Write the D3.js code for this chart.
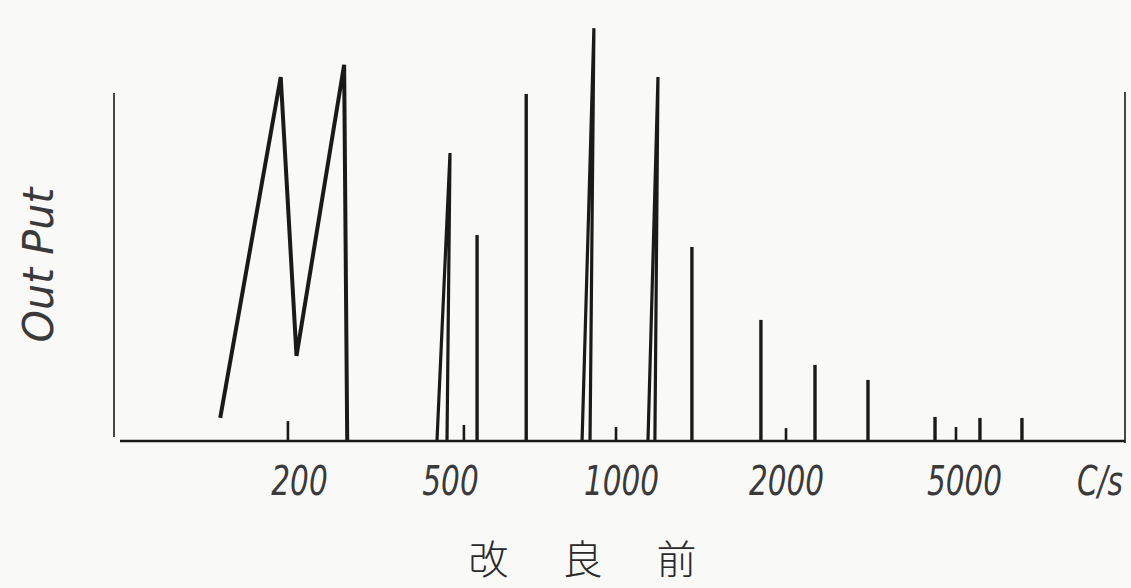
<!DOCTYPE html>
<html>
<head>
<meta charset="utf-8">
<script src="https://cdn.jsdelivr.net/npm/d3@7/dist/d3.min.js"></script>
<style>
  html, body { margin: 0; padding: 0; background: #f9f9f8; }
  svg { display: block; }
</style>
</head>
<body>
<script>
// frequency ticks along the bottom (c/s)
var tickFreqs = [200, 500, 1000, 2000, 5000];
var unitLabel = "C/s";

// the swept part on the low end (freq, output)
var sweepFreq = [124, 179, 197, 263, 268];
var sweepOut  = [6.6, 104.3, 24.4, 107.8, 0];

// spikes that open into a narrow fork at the base
var forkFreq  = [500, 896, 1168];
var forkOut   = [82.5, 118.3, 104.3];
var forkLeft  = [462, 854, 1120];
var forkRight = [491, 882, 1153];

// plain spikes
var spikeFreq = [558, 681, 1347, 1800, 2322, 3050, 4307, 5428, 6738];
var spikeOut  = [59.0, 99.4, 55.6, 34.7, 21.8, 17.5, 6.9, 6.6, 6.6];

// tiny marks sitting on the baseline
var minorFreq = [187, 529, 980, 2000, 4798];
var minorOut  = [5.7, 4.6, 4.0, 3.7, 4.0];

var w = 1131;
var h = 588;
var padLeft = 114, padRight = 1125, base = 441, plotTop = 92;
// hand drawn axis, so the log scale is stretched piece by piece
var stops = [299, 450, 621, 786, 964];

var svg = d3.select("body")
    .append("svg")
    .attr("width", w)
    .attr("height", h);

var x = d3.scaleLog()
    .domain(tickFreqs)
    .range(stops);

var y = d3.scaleLinear()
    .domain([0, 100])
    .range([base, plotTop]);

var ink = "#1a1a1a";
var pen = "#3a3a3a";

// frame: left axis, baseline, right axis
svg.append("line")
    .attr("x1", padLeft).attr("x2", padLeft)
    .attr("y1", plotTop + 1).attr("y2", base - 4)
    .attr("stroke", ink).attr("stroke-width", 1.6);

svg.append("line")
    .attr("x1", padLeft + 6).attr("x2", padRight)
    .attr("y1", base).attr("y2", base)
    .attr("stroke", ink).attr("stroke-width", 2.4);

svg.append("line")
    .attr("x1", padRight).attr("x2", padRight)
    .attr("y1", plotTop).attr("y2", base + 2)
    .attr("stroke", ink).attr("stroke-width", 1.6);

// sweep
var sweep = sweepFreq.map(function(f, i) { return [f, sweepOut[i]]; });
var line = d3.line()
    .x(function(d) { return x(d[0]); })
    .y(function(d) { return y(d[1]); });

svg.append("path")
    .datum(sweep)
    .attr("d", line)
    .attr("fill", "none")
    .attr("stroke", ink)
    .attr("stroke-width", 4)
    .attr("stroke-linejoin", "miter");

// forked spikes
svg.selectAll("path.fork")
    .data(forkFreq)
    .enter()
    .append("path")
    .attr("class", "fork")
    .attr("d", function(f, i) {
        return line([[forkLeft[i], 0], [f, forkOut[i]], [forkRight[i], 0]]);
    })
    .attr("fill", "none")
    .attr("stroke", ink)
    .attr("stroke-width", 3.2);

// plain spikes
svg.selectAll("line.spike")
    .data(spikeFreq)
    .enter()
    .append("line")
    .attr("class", "spike")
    .attr("x1", function(d) { return x(d); })
    .attr("x2", function(d) { return x(d); })
    .attr("y1", y(0))
    .attr("y2", function(d, i) { return y(spikeOut[i]); })
    .attr("stroke", ink)
    .attr("stroke-width", 3.4);

svg.selectAll("line.minor")
    .data(minorFreq)
    .enter()
    .append("line")
    .attr("class", "minor")
    .attr("x1", function(d) { return x(d); })
    .attr("x2", function(d) { return x(d); })
    .attr("y1", y(0))
    .attr("y2", function(d, i) { return y(minorOut[i]); })
    .attr("stroke", ink)
    .attr("stroke-width", 2.6);

// tick labels, no tick marks
var axis = d3.axisBottom(x)
    .tickValues(tickFreqs)
    .tickSize(0)
    .tickFormat(d3.format("d"));

var gx = svg.append("g")
    .attr("transform", "translate(0," + base + ")")
    .call(axis);
gx.select(".domain").remove();
gx.selectAll("text")
    .attr("y", 0)
    .attr("dy", 0)
    .attr("transform", "translate(0,54) scale(0.72,1)")
    .attr("font-family", "DejaVu Sans")
    .attr("font-weight", 200)
    .attr("font-style", "italic")
    .attr("font-size", 41)
    .attr("fill", pen);

svg.append("text")
    .attr("transform", "translate(1100,495) scale(0.72,1)")
    .attr("text-anchor", "middle")
    .attr("font-family", "DejaVu Sans")
    .attr("font-weight", 200)
    .attr("font-style", "italic")
    .attr("font-size", 41)
    .attr("fill", pen)
    .text(unitLabel);

svg.append("text")
    .attr("transform", "translate(53,265) rotate(-90)")
    .attr("text-anchor", "middle")
    .attr("font-family", "DejaVu Sans")
    .attr("font-weight", 200)
    .attr("font-style", "italic")
    .attr("font-size", 42)
    .attr("textLength", 155)
    .attr("lengthAdjust", "spacingAndGlyphs")
    .attr("fill", pen)
    .text("Out  Put");

svg.append("text")
    .attr("x", 586)
    .attr("y", 574)
    .attr("text-anchor", "middle")
    .attr("font-family", "Noto Sans CJK JP")
    .attr("font-weight", 300)
    .attr("font-size", 40)
    .attr("letter-spacing", 7)
    .attr("fill", "#2a2a2a")
    .text("改　良　前");
</script>
</body>
</html>
